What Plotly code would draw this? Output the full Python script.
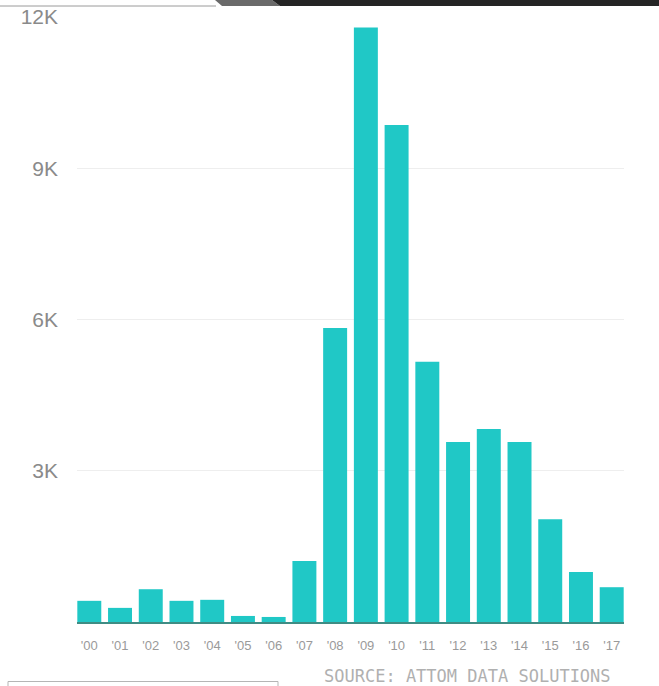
import plotly.graph_objects as go

years = ["'00", "'01", "'02", "'03", "'04", "'05", "'06", "'07", "'08", "'09",
         "'10", "'11", "'12", "'13", "'14", "'15", "'16", "'17"]
values = [420, 280, 650, 420, 440, 120, 100, 1210, 5830, 11790,
          9860, 5160, 3570, 3830, 3570, 2040, 990, 690]
y_ticks = [3000, 6000, 9000, 12000]
y_tick_text = ["3K", "6K", "9K", "12K"]
source = "SOURCE: ATTOM DATA SOLUTIONS"

W, H = 659, 686
pl, pr, pt, pb = 77, 35, 17, 64
pw, ph = W - pl - pr, H - pt - pb


def px(x):
    return (x - pl) / pw


def py(y):
    return (H - pb - y) / ph


fig = go.Figure()
fig.add_trace(go.Bar(x=years, y=values, marker=dict(color="#20c8c6", line=dict(width=0)),
                     hoverinfo="skip"))

shapes = [
    dict(type="path", xref="paper", yref="paper",
         path=f"M {px(215)} {py(0)} L {px(272)} {py(0)} L {px(280)} {py(6)} L {px(222)} {py(6)} Z",
         fillcolor="#6a6a6a", line=dict(width=0), layer="above"),
    dict(type="path", xref="paper", yref="paper",
         path=f"M {px(272)} {py(0)} L {px(660)} {py(0)} L {px(660)} {py(6)} L {px(280)} {py(6)} Z",
         fillcolor="#252525", line=dict(width=0), layer="above"),
    dict(type="line", xref="paper", yref="paper", x0=px(0), x1=px(216), y0=py(6), y1=py(6),
         line=dict(color="#9a9a9a", width=1)),
    dict(type="path", xref="paper", yref="paper",
         path=f"M {px(8)} {py(690)} L {px(8)} {py(681.5)} L {px(278)} {py(681.5)} L {px(278)} {py(690)}",
         line=dict(color="#b5b5b5", width=1)),
]

fig.update_layout(
    width=W, height=H,
    margin=dict(l=pl, r=pr, t=pt, b=pb),
    paper_bgcolor="white", plot_bgcolor="white",
    showlegend=False,
    bargap=0.22,
    xaxis=dict(type="category", range=[-0.4, 17.4], showgrid=False, zeroline=False,
               automargin=False,
               showline=True, linecolor="#3f8c84", linewidth=2,
               ticks="", tickfont=dict(family="Liberation Sans Narrow, Arial Narrow, Liberation Sans",
                                       size=13, color="#9a9a9a"),
               ticklabelstandoff=10),
    yaxis=dict(range=[0, 12000], tickvals=y_ticks, ticktext=y_tick_text,
               automargin=False,
               showgrid=True, gridcolor="#eeeeee", gridwidth=1, zeroline=False,
               showline=False, ticks="",
               tickfont=dict(family="Liberation Sans, Arial", size=21, color="#8a8a8a"),
               ticklabelstandoff=18),
    annotations=[dict(text=source, xref="paper", yref="paper", x=px(613), y=py(676),
                      xanchor="right", yanchor="middle", showarrow=False,
                      font=dict(family="DejaVu Sans Mono", size=17, color="#b0b0b0"))],
    shapes=shapes,
)

fig.write_html("out.html")
